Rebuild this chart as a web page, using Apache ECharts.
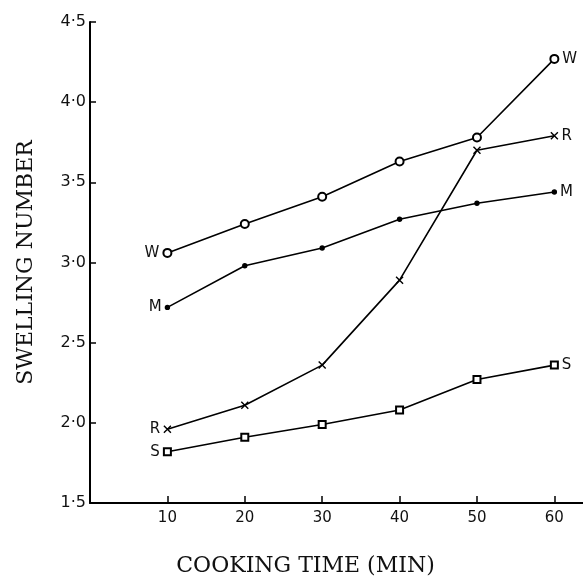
<!DOCTYPE html>
<html>
<head>
<meta charset="utf-8">
<script src="https://cdn.jsdelivr.net/npm/echarts@6/dist/echarts.min.js"></script>
<style>
	html, body { margin: 0; padding: 0; background: #fff; }
	#chart { width: 583px; height: 576px; }
</style>
</head>
<body>
<div id="chart"></div>
<script>
	// cooking time (min)
	var times = [10, 20, 30, 40, 50, 60];
	var seriesW = [3.06, 3.24, 3.41, 3.63, 3.78, 4.27];
	var seriesR = [1.96, 2.11, 2.36, 2.89, 3.70, 3.79];
	var seriesM = [2.72, 2.98, 3.09, 3.27, 3.37, 3.44];
	var seriesS = [1.82, 1.91, 1.99, 2.08, 2.27, 2.36];

	var fontColor = '#111';
	var tickFont = '"DejaVu Sans", sans-serif';
	var titleFont = '"DejaVu Serif", serif';

	function makeSeries(name, values, symbol, size) {
		var data = values.map(function (v, i) {
			var item = { value: [times[i], v] };
			if (i === 0 || i === values.length - 1) {
				item.label = {
					show: true,
					position: i === 0 ? 'left' : 'right',
					distance: 3,
					formatter: name,
					color: fontColor,
					fontSize: 15,
					fontFamily: tickFont
				};
			}
			return item;
		});
		return {
			name: name,
			type: 'line',
			symbol: symbol,
			symbolSize: size,
			showAllSymbol: true,
			lineStyle: { color: '#000', width: 1.6 },
			itemStyle: { color: '#000', borderColor: '#000', borderWidth: 1.4 },
			z: 3,
			data: data
		};
	}

	var myChart = echarts.init(document.getElementById('chart'));
	myChart.setOption({
		animation: false,
		backgroundColor: '#fff',
		grid: { left: 90, right: 0, top: 22, bottom: 73, outerBoundsMode: 'none' },
		xAxis: {
			type: 'value',
			min: 0,
			max: 63.7,
			interval: 10,
			name: 'COOKING TIME (MIN)',
			nameLocation: 'middle',
			nameGap: 52,
			nameTextStyle: { color: fontColor, fontSize: 22, fontFamily: titleFont, padding: [0, 62, 0, 0] },
			axisLine: { show: true, lineStyle: { color: '#000', width: 2 } },
			axisTick: { show: true, inside: true, length: 7, customValues: times, lineStyle: { color: '#000', width: 1.5 } },
			splitLine: { show: false },
			axisLabel: {
				color: fontColor,
				fontSize: 15,
				fontFamily: tickFont,
				margin: 8,
				customValues: times,
				formatter: function (v) { return String(v); }
			}
		},
		yAxis: {
			type: 'value',
			min: 1.5,
			max: 4.5,
			interval: 0.5,
			name: 'SWELLING NUMBER',
			nameLocation: 'middle',
			nameGap: 53,
			nameRotate: 90,
			nameTextStyle: { color: fontColor, fontSize: 22, fontFamily: titleFont },
			axisLine: { show: true, lineStyle: { color: '#000', width: 2 } },
			axisTick: { show: true, inside: true, length: 6, lineStyle: { color: '#000', width: 1.5 } },
			splitLine: { show: false },
			axisLabel: {
				color: fontColor,
				fontSize: 16,
				fontFamily: tickFont,
				margin: 4,
				formatter: function (v) { return v.toFixed(1).replace('.', '·'); }
			}
		},
		series: [
			makeSeries('W', seriesW, 'emptyCircle', 8),
			makeSeries('R', seriesR, 'path://M0,0L10,10M10,0L0,10', 7),
			makeSeries('M', seriesM, 'circle', 4),
			makeSeries('S', seriesS, 'emptyRect', 7)
		]
	});
</script>
</body>
</html>
